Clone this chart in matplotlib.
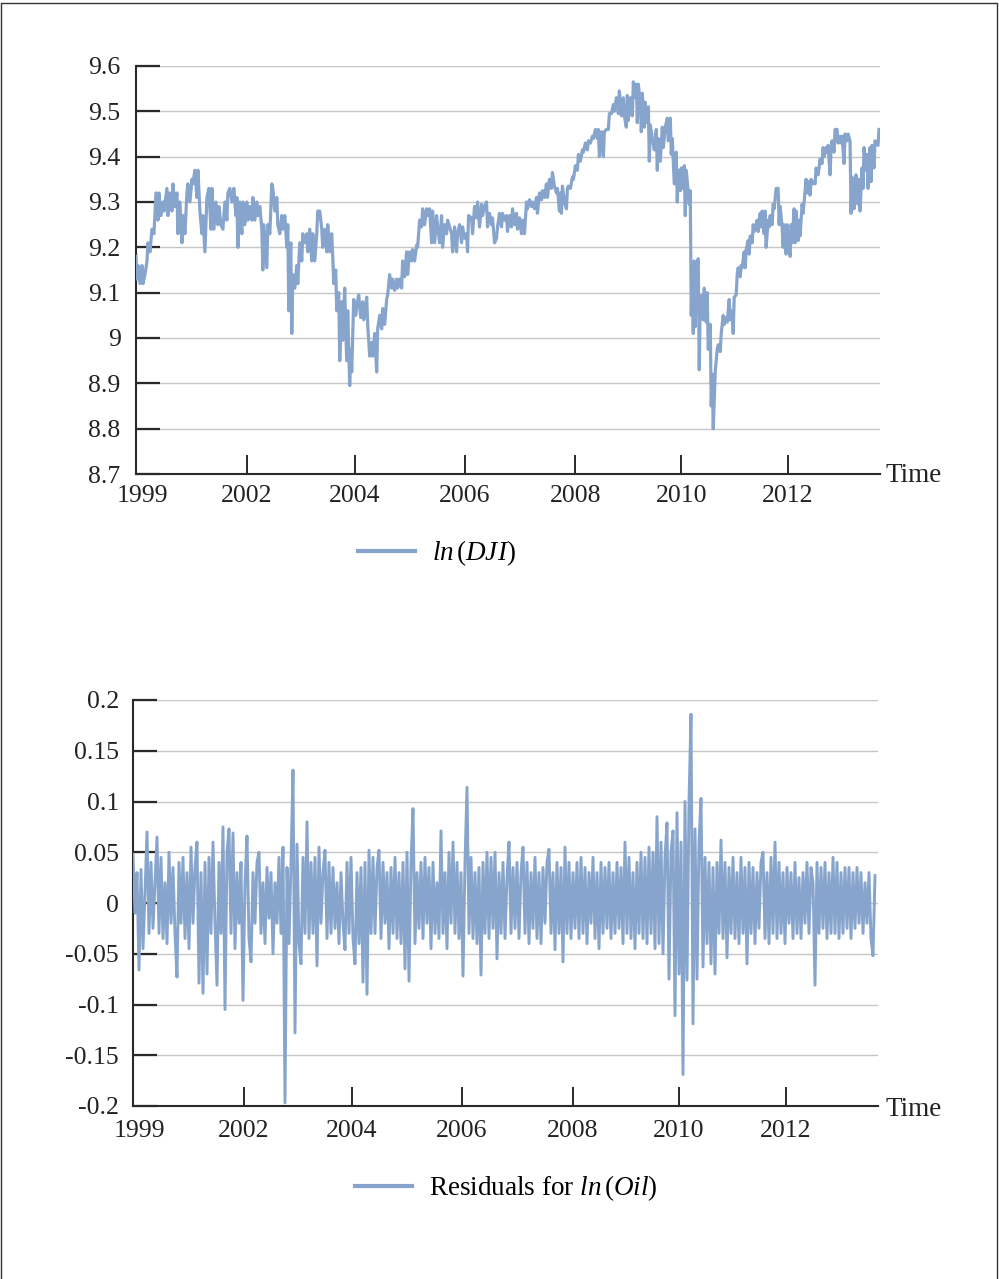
import numpy as np
import matplotlib
matplotlib.use("Agg")
import matplotlib.pyplot as plt
from matplotlib.lines import Line2D
from matplotlib.transforms import ScaledTranslation

plt.rcParams['font.family'] = ['Liberation Serif', 'DejaVu Serif']
plt.rcParams['mathtext.fontset'] = 'custom'
plt.rcParams['mathtext.rm'] = 'Liberation Serif'
plt.rcParams['mathtext.it'] = 'Liberation Serif:italic'
plt.rcParams['mathtext.bf'] = 'Liberation Serif:bold'

# ---------------- data ----------------
tick_weeks = [0, 111, 219, 329, 440, 546, 653]
tick_labels = ['1999', '2002', '2004', '2006', '2008', '2010', '2012']

dji_yticks = [8.7, 8.8, 8.9, 9.0, 9.1, 9.2, 9.3, 9.4, 9.5, 9.6]
dji_ytick_labels = ['8.7', '8.8', '8.9', '9', '9.1', '9.2', '9.3', '9.4', '9.5', '9.6']
res_yticks = [-0.2, -0.15, -0.1, -0.05, 0, 0.05, 0.1, 0.15, 0.2]
res_ytick_labels = ['-0.2', '-0.15', '-0.1', '-0.05', '0', '0.05', '0.1', '0.15', '0.2']

dji_week = [
    0, 1, 2, 4, 6, 7, 9, 11, 12, 14,
    16, 18, 20, 22, 23, 25, 27, 28, 31, 32,
    34, 36, 37, 39, 41, 42, 44, 46, 47, 49,
    51, 52, 54, 56, 57, 59, 61, 62, 64, 66,
    67, 69, 71, 73, 75, 76, 78, 80, 82, 83,
    85, 87, 89, 91, 92, 94, 96, 98, 100, 101,
    102, 104, 106, 107, 109, 111, 112, 114, 116, 117,
    119, 121, 122, 124, 126, 127, 128, 131, 132, 134,
    136, 137, 139, 141, 142, 144, 146, 147, 149, 151,
    152, 153, 155, 156, 157, 159, 161, 162, 164, 166,
    167, 169, 171, 172, 174, 176, 177, 179, 181, 182,
    184, 186, 187, 189, 191, 192, 194, 196, 197, 198,
    200, 201, 203, 204, 206, 207, 209, 210, 211, 212,
    214, 215, 216, 218, 220, 221, 223, 225, 227, 228,
    230, 231, 232, 234, 236, 237, 239, 241, 242, 244,
    246, 247, 249, 251, 252, 254, 256, 257, 259, 261,
    262, 264, 266, 267, 269, 271, 272, 274, 276, 277,
    279, 281, 282, 284, 286, 287, 289, 291, 292, 294,
    296, 297, 299, 301, 302, 304, 306, 307, 309, 311,
    312, 314, 316, 317, 319, 321, 322, 324, 326, 327,
    329, 331, 332, 333, 336, 337, 339, 341, 342, 344,
    346, 347, 349, 351, 352, 354, 356, 357, 359, 361,
    362, 364, 366, 367, 369, 371, 372,
    374, 376, 377, 379, 381, 382, 384, 386, 387, 389,
    391, 392, 394, 396, 397, 399, 401, 402, 404, 406,
    407, 409, 411, 412, 414, 416, 417, 419, 421, 422,
    424, 425, 426, 427, 429, 431, 432, 433, 435, 437,
    438, 440, 442, 443, 445, 447, 448, 450, 452, 453,
    455, 457, 458, 460, 462, 463, 464, 466, 468, 469,
    471, 473, 474, 476, 478, 479, 481, 483, 484, 486,
    488, 489, 491, 492, 493, 495, 497, 498, 500, 501,
    502, 503, 505, 506, 507, 509, 510, 511, 513, 514,
    515, 517, 519, 521, 522, 523, 525, 527, 528, 530,
    532, 533, 535, 536, 537, 539, 541, 542, 543, 545,
    546, 547, 549, 550, 551, 553, 554, 555, 556, 557,
    558, 559, 560, 561, 563, 564, 565, 567, 568, 569,
    571, 572, 573, 575, 576, 577, 578, 580, 582, 583,
    585, 586, 588, 589, 591, 592, 594, 595, 597, 598,
    599, 601, 602, 603, 605, 606, 607, 609, 610, 611,
    613, 614, 615, 617, 618, 619, 621, 622, 623, 625,
    626, 627, 629, 630, 631, 633, 634, 635, 637, 638,
    639, 641, 643, 644, 645, 647, 648, 649, 651, 652,
    653, 655, 656, 657, 659, 660, 661, 663, 664, 665,
    667, 668, 669, 671, 672, 673, 675, 676, 677, 679,
    680, 681, 683, 684, 685, 687, 688, 689, 691, 692,
    693, 695, 696, 697, 699, 700, 702, 703, 705, 706,
    707, 709, 710, 712, 713, 715, 716, 717, 719, 720,
    721, 723, 724, 725, 727, 728, 729, 731, 732, 733,
    735, 736, 737, 739, 740, 741, 743, 744,
]

dji_value = [
    9.18, 9.13, 9.16, 9.12, 9.16, 9.12, 9.14, 9.17, 9.21, 9.19,
    9.24, 9.23, 9.32, 9.26, 9.32, 9.27, 9.30, 9.28, 9.33, 9.27,
    9.32, 9.28, 9.34, 9.29, 9.32, 9.23, 9.30, 9.21, 9.27, 9.23,
    9.32, 9.34, 9.30, 9.35, 9.34, 9.37, 9.31, 9.37, 9.28, 9.23,
    9.27, 9.19, 9.31, 9.33, 9.24, 9.33, 9.24, 9.30, 9.25, 9.29,
    9.25, 9.24, 9.30, 9.26, 9.32, 9.33, 9.30, 9.33, 9.27, 9.31,
    9.20, 9.30, 9.23, 9.30, 9.25, 9.30, 9.26, 9.29, 9.26, 9.31,
    9.26, 9.30, 9.27, 9.29, 9.24, 9.15, 9.25, 9.155, 9.25, 9.23,
    9.34, 9.33, 9.28, 9.31, 9.25, 9.23, 9.27, 9.24, 9.27, 9.20,
    9.25, 9.06, 9.21, 9.01, 9.14, 9.11, 9.16, 9.12, 9.21, 9.17,
    9.23, 9.21, 9.23, 9.19, 9.24, 9.17, 9.23, 9.17, 9.23, 9.28,
    9.28, 9.24, 9.20, 9.24, 9.19, 9.25, 9.19, 9.23, 9.18, 9.12,
    9.15, 9.06, 9.10, 8.95, 9.08, 8.995, 9.11, 9.02, 8.95, 9.06,
    8.895, 8.975, 8.925, 9.085, 9.05, 9.07, 9.095, 9.045, 9.08, 9.04,
    9.07, 9.09, 9.03, 8.96, 8.99, 8.96, 9.01, 8.925, 9.02, 9.05,
    9.02, 9.065, 9.03, 9.085, 9.095, 9.14, 9.11, 9.13, 9.105, 9.13,
    9.11, 9.13, 9.11, 9.17, 9.135, 9.19, 9.14, 9.19, 9.17, 9.195,
    9.17, 9.205, 9.20, 9.26, 9.245, 9.285, 9.25, 9.285, 9.27, 9.285,
    9.21, 9.28, 9.21, 9.27, 9.245, 9.21, 9.27, 9.20, 9.25, 9.23,
    9.26, 9.245, 9.23, 9.19, 9.245, 9.19, 9.23, 9.25, 9.21, 9.245,
    9.22, 9.23, 9.19, 9.27, 9.265, 9.23, 9.29, 9.265, 9.30, 9.245,
    9.295, 9.27, 9.29, 9.30, 9.245, 9.275, 9.25, 9.265, 9.21, 9.22,
    9.245, 9.275, 9.245, 9.275, 9.26, 9.27, 9.235,
    9.27, 9.245, 9.285, 9.25, 9.275, 9.24, 9.265, 9.23, 9.26, 9.23,
    9.30, 9.285, 9.305, 9.29, 9.30, 9.285, 9.31, 9.275, 9.32, 9.305,
    9.325, 9.31, 9.34, 9.31, 9.35, 9.33, 9.365, 9.335, 9.32, 9.33,
    9.28, 9.32, 9.275, 9.335, 9.30, 9.285, 9.33, 9.335, 9.33, 9.355,
    9.35, 9.38, 9.37, 9.405, 9.39, 9.415, 9.41, 9.43, 9.415, 9.435,
    9.43, 9.445, 9.44, 9.46, 9.44, 9.46, 9.40, 9.455, 9.40, 9.455,
    9.46, 9.46, 9.495, 9.495, 9.515, 9.50, 9.53, 9.495, 9.545, 9.49,
    9.53, 9.49, 9.465, 9.535, 9.48, 9.53, 9.49, 9.565, 9.53, 9.56,
    9.475, 9.56, 9.52, 9.455, 9.54, 9.465, 9.52, 9.475, 9.51, 9.39,
    9.47, 9.44, 9.415, 9.46, 9.37, 9.44, 9.39, 9.465, 9.42, 9.465,
    9.485, 9.435, 9.485, 9.405, 9.44, 9.34, 9.41, 9.30, 9.37, 9.325,
    9.375, 9.33, 9.38, 9.27, 9.37, 9.32, 9.295, 9.325, 9.05, 9.155,
    9.01, 9.17, 9.025, 9.155, 9.175, 8.93, 9.08, 9.095, 9.04, 9.11,
    9.035, 9.10, 8.975, 9.03, 8.85, 8.92, 8.80, 8.925, 8.975, 8.985,
    8.97, 9.01, 9.05, 9.03, 9.045, 9.035, 9.085, 9.04, 9.06, 9.01,
    9.09, 9.095, 9.14, 9.155, 9.135, 9.16, 9.155, 9.19, 9.155, 9.195,
    9.215, 9.185, 9.225, 9.21, 9.25, 9.235, 9.25, 9.26, 9.235, 9.275,
    9.245, 9.28, 9.23, 9.28, 9.20, 9.26, 9.245, 9.27, 9.25, 9.295,
    9.285, 9.33, 9.33, 9.25, 9.29, 9.245, 9.20, 9.25, 9.185, 9.25,
    9.215, 9.18, 9.25, 9.21, 9.285, 9.21, 9.28, 9.215, 9.26, 9.225,
    9.295, 9.275, 9.30, 9.35, 9.32, 9.345, 9.315, 9.35, 9.34, 9.345,
    9.34, 9.375, 9.36, 9.375, 9.395, 9.385, 9.42, 9.40, 9.42, 9.41,
    9.425, 9.36, 9.42, 9.435, 9.41, 9.46, 9.46, 9.43, 9.445, 9.43,
    9.445, 9.385, 9.45, 9.435, 9.45, 9.435, 9.275, 9.355, 9.285, 9.34,
    9.36, 9.295, 9.35, 9.28, 9.375, 9.33, 9.42, 9.37, 9.405, 9.33,
    9.42, 9.345, 9.425, 9.375, 9.435, 9.43, 9.425, 9.46,
]

resid_step_weeks = 2
resid_value = [
    0.048, -0.01, 0.03, -0.066, 0.033, -0.045, 0.01, 0.07, -0.03, 0.04, -0.025, 0.02, 0.065, -0.03, 0.045, -0.035, 0.02, -0.04, 0.05, -0.02,
    0.035, -0.03, -0.073, 0.04, -0.02, 0.045, -0.035, 0.03, -0.045, 0.055, -0.02, 0.035, 0.06, -0.079, 0.03, -0.089, 0.04, -0.07, 0.045, -0.03,
    0.06, -0.02, -0.081, 0.04, -0.03, 0.075, -0.105, 0.05, 0.073, -0.03, 0.069, -0.045, 0.03, -0.02, 0.04, -0.096, 0.02, 0.066, -0.035, -0.058,
    0.03, -0.02, 0.04, 0.05, -0.03, 0.02, -0.04, 0.035, -0.015, 0.03, -0.05, 0.02, -0.02, 0.045, -0.03, 0.055, -0.197, 0.035, -0.04, 0.04,
    0.131, -0.128, 0.058, -0.04, -0.06, 0.045, -0.03, 0.08, -0.035, 0.04, -0.03, 0.045, -0.062, 0.055, -0.02, 0.03, 0.052, -0.035, 0.04, -0.03,
    0.035, -0.025, 0.02, -0.04, 0.03, -0.02, -0.046, 0.04, -0.03, 0.045, -0.035, -0.06, 0.03, -0.04, 0.035, -0.078, 0.04, -0.09, 0.052, -0.03,
    0.045, -0.03, 0.035, 0.052, -0.035, 0.04, -0.02, 0.03, -0.045, 0.035, -0.03, 0.045, -0.035, 0.03, -0.04, 0.04, -0.065, 0.05, -0.077, 0.04,
    0.093, -0.04, 0.03, -0.025, 0.04, -0.035, 0.045, -0.02, 0.035, -0.045, 0.04, -0.03, 0.02, -0.035, 0.071, -0.03, 0.03, -0.045, 0.05, -0.02,
    0.06, -0.03, 0.04, -0.035, 0.03, -0.072, 0.04, 0.114, -0.03, 0.045, -0.035, 0.03, -0.04, 0.035, -0.071, 0.04, -0.03, 0.05, -0.035, 0.045,
    -0.025, 0.05, -0.055, 0.03, -0.03, 0.04, -0.035, 0.025, 0.06, -0.03, 0.035, -0.025, 0.04, -0.035, 0.03, 0.055, -0.03, 0.04, -0.04, 0.03,
    -0.025, 0.045, -0.035, 0.03, -0.04, 0.035, -0.02, 0.04, 0.053, -0.03, 0.03, -0.046, 0.04, -0.03, 0.035, -0.058, 0.055, -0.03, 0.04, -0.035,
    0.03, -0.025, 0.04, -0.035, 0.045, -0.03, 0.035, -0.04, 0.03, -0.02, 0.045, -0.035, 0.03, -0.045, 0.04, -0.03, 0.035, -0.025, 0.04, -0.035,
    0.03, -0.03, 0.04, -0.025, 0.035, -0.04, 0.06, -0.03, 0.045, -0.035, 0.03, -0.045, 0.04, -0.03, 0.05, -0.035, 0.045, -0.04, 0.055, -0.03,
    0.05, -0.045, 0.085, -0.04, 0.06, -0.05, 0.045, 0.079, -0.075, 0.05, 0.071, -0.111, 0.089, -0.07, 0.06, -0.169, 0.1, -0.076, 0.1, 0.186,
    -0.119, 0.073, -0.075, 0.06, 0.103, -0.063, 0.045, -0.04, 0.04, -0.06, 0.035, -0.07, 0.04, -0.03, 0.062, -0.035, 0.04, -0.054, 0.035, -0.03,
    0.045, -0.035, 0.03, -0.04, 0.045, -0.03, 0.035, -0.06, 0.04, -0.03, 0.035, -0.04, 0.03, -0.025, 0.04, 0.05, -0.035, 0.03, -0.04, 0.045,
    -0.03, 0.06, -0.035, 0.04, -0.03, 0.03, -0.04, 0.035, -0.02, 0.03, -0.035, 0.04, -0.03, 0.025, -0.035, 0.03, -0.02, 0.04, -0.03, 0.035,
    0.02, -0.081, 0.04, -0.03, 0.035, -0.025, 0.04, -0.035, 0.03, -0.03, 0.045, -0.03, 0.04, -0.035, 0.03, -0.03, 0.035, -0.025, 0.035, -0.035,
    0.03, -0.025, 0.035, -0.02, 0.03, -0.03, 0.02, -0.02, 0.03, -0.035, -0.052, 0.027,
]

assert len(dji_week) == len(dji_value)
resid_week = np.arange(len(resid_value)) * resid_step_weeks

# ---------------- style ----------------
LINE_COLOR = '#87a5cc'
GRID_COLOR = '#c6c6c6'
AXIS_COLOR = '#2a2a2a'
TEXT_COLOR = '#222222'
FS_TICK = 18.5
FS_TEXT = 19.5

fig = plt.figure(figsize=(9.99, 12.79), dpi=100)
W, H = 999.0, 1279.0


def style_axes(ax, yticks, ylabels, ylim, ypad, xpad):
    ax.set_xlim(0, 745)
    ax.set_ylim(*ylim)
    ax.set_yticks(yticks)
    ax.set_yticklabels(ylabels)
    ax.set_xticks(tick_weeks)
    ax.set_xticklabels(tick_labels)
    for s in ['top', 'right']:
        ax.spines[s].set_visible(False)
    for s in ['left', 'bottom']:
        ax.spines[s].set_color(AXIS_COLOR)
        ax.spines[s].set_linewidth(1.5)
    ax.tick_params(axis='y', direction='in', length=17, width=1.6,
                   color=AXIS_COLOR, labelsize=FS_TICK, pad=ypad, labelcolor=TEXT_COLOR)
    ax.tick_params(axis='x', direction='in', length=14, width=1.4,
                   color=AXIS_COLOR, labelsize=FS_TICK, pad=xpad, labelcolor=TEXT_COLOR)
    ax.yaxis.grid(True, color=GRID_COLOR, linewidth=1.0)
    ax.xaxis.grid(False)
    ax.set_axisbelow(True)
    # first date label sits slightly right of the axis corner
    lab = ax.xaxis.get_major_ticks()[0].label1
    lab.set_transform(lab.get_transform() + ScaledTranslation(6 / 100, 0, fig.dpi_scale_trans))


# ---- top panel ----
ax1 = fig.add_axes([136 / W, 1 - 474 / H, 744 / W, (474 - 66) / H])
ax1.plot(dji_week, dji_value, color=LINE_COLOR, linewidth=2.3, zorder=3)
style_axes(ax1, dji_yticks, dji_ytick_labels, (8.7, 9.6), 11, 8)
fig.text(885 / W, 1 - 476 / H, 'Time', fontsize=FS_TEXT, ha='left', va='center', color=TEXT_COLOR)

h1 = Line2D([], [], color=LINE_COLOR, linewidth=3)
fig.legend([h1], [r'$ln\,(DJI)$'], loc='center left',
           bbox_to_anchor=(358 / W, 1 - 553 / H), frameon=False, fontsize=FS_TEXT,
           handlelength=2.1, handletextpad=0.65, borderpad=0, borderaxespad=0)

# ---- bottom panel ----
ax2 = fig.add_axes([133 / W, 1 - 1106 / H, 745 / W, (1106 - 700) / H])
ax2.plot(resid_week, resid_value, color=LINE_COLOR, linewidth=2.1, zorder=3)
style_axes(ax2, res_yticks, res_ytick_labels, (-0.2, 0.2), 10, 10)
fig.text(885 / W, 1 - 1110 / H, 'Time', fontsize=FS_TEXT, ha='left', va='center', color=TEXT_COLOR)

h2 = Line2D([], [], color=LINE_COLOR, linewidth=3)
fig.legend([h2], [r'Residuals for $ln\,(Oil)$'], loc='center left',
           bbox_to_anchor=(355 / W, 1 - 1188 / H), frameon=False, fontsize=FS_TEXT,
           handlelength=2.1, handletextpad=0.65, borderpad=0, borderaxespad=0)

# ---- figure frame ----
frame = Line2D([1 / W, 1 / W, 997 / W, 997 / W], [0, 1 - 2.5 / H, 1 - 2.5 / H, 0],
               transform=fig.transFigure, color='#333333', linewidth=1.0)
fig.add_artist(frame)

fig.savefig('out.png', dpi=100, facecolor='white')
